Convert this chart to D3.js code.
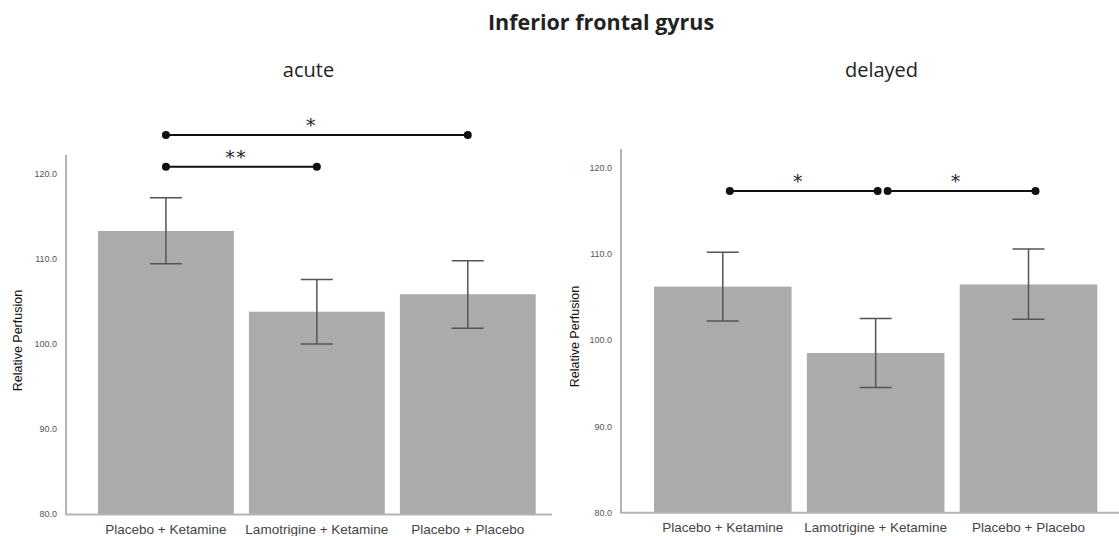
<!DOCTYPE html>
<html>
<head>
<meta charset="utf-8">
<script src="https://cdn.jsdelivr.net/npm/d3@7"></script>
<style>
  body { margin: 0; background: #fff; }
  svg { display: block; }
</style>
</head>
<body>
<svg id="chart" width="1119" height="536"></svg>
<script>
// groups on the x axis
var categories = ['Placebo + Ketamine', 'Lamotrigine + Ketamine', 'Placebo + Placebo'];

// acute: bar means and error bar limits
var acuteMeans = [113.3, 103.8, 105.85];
var acuteLower = [109.45, 100.0, 101.85];
var acuteUpper = [117.2, 107.6, 109.8];

// delayed
var delayedMeans = [106.2, 98.5, 106.45];
var delayedLower = [102.2, 94.5, 102.4];
var delayedUpper = [110.2, 102.5, 110.55];

var yTicks = [80, 90, 100, 110, 120];

// significance brackets (category index from/to, height in data units)
var acuteSig = [
  { from: 0, to: 2, level: 124.6, label: '*' },
  { from: 0, to: 1, level: 120.85, label: '**' }
];
var delayedSig = [
  { from: 0, to: 1, level: 117.3, label: '*' },
  { from: 1, to: 2, level: 117.3, label: '*' }
];

var svg = d3.select('#chart');

svg.append('text')
    .attr('x', 601).attr('y', 30)
    .attr('text-anchor', 'middle')
    .attr('font-family', 'Open Sans, sans-serif')
    .attr('font-weight', 'bold')
    .attr('font-size', 21.5)
    .attr('fill', '#222')
    .text('Inferior frontal gyrus');

function panel(opts) {
  var g = svg.append('g');

  var x = d3.scaleBand()
      .domain(categories)
      .range(opts.barRange)
      .paddingInner(0.1)
      .paddingOuter(0);

  var y = d3.scaleLinear()
      .domain([80, 120])
      .range(opts.yRange);

  var rows = categories.map(function(c, i) {
    return { cat: c, mean: opts.means[i], lo: opts.lower[i], hi: opts.upper[i] };
  });

  // subtitle
  g.append('text')
      .attr('x', opts.subX).attr('y', 77)
      .attr('text-anchor', 'middle')
      .attr('font-family', 'Open Sans, sans-serif')
      .attr('font-size', 20)
      .attr('fill', '#222')
      .text(opts.name);

  // bars
  g.selectAll('rect.bar')
      .data(rows)
    .enter().append('rect')
      .attr('class', 'bar')
      .attr('x', function(d) { return x(d.cat); })
      .attr('width', x.bandwidth())
      .attr('y', function(d) { return y(d.mean); })
      .attr('height', function(d) { return y(80) - y(d.mean); })
      .attr('fill', '#ababab');

  // axes (SPSS-like: grey lines, no tick marks)
  var yAxis = d3.axisLeft(y)
      .tickValues(yTicks)
      .tickSize(0)
      .tickPadding(9)
      .tickFormat(d3.format('.1f'));

  var ya = g.append('g')
      .attr('transform', 'translate(' + opts.axisX + ',0)')
      .call(yAxis);
  ya.select('.domain').remove();
  ya.selectAll('text')
      .attr('font-family', 'Liberation Sans, Arial, sans-serif')
      .attr('font-size', 9)
      .attr('fill', '#555');

  g.append('line')
      .attr('x1', opts.axisX).attr('x2', opts.axisX)
      .attr('y1', opts.axisTop).attr('y2', y(80) + 1)
      .attr('stroke', '#b4b4b4').attr('stroke-width', 2);
  g.append('line')
      .attr('x1', opts.axisX).attr('x2', opts.axisRight)
      .attr('y1', y(80) + 0.5).attr('y2', y(80) + 0.5)
      .attr('stroke', '#b4b4b4').attr('stroke-width', 2);

  var xAxis = d3.axisBottom(x).tickSize(0).tickPadding(10);
  var xa = g.append('g')
      .attr('transform', 'translate(0,' + y(80) + ')')
      .call(xAxis);
  xa.select('.domain').remove();
  xa.selectAll('text')
      .attr('font-family', 'Liberation Sans, Arial, sans-serif')
      .attr('font-size', 13.5)
      .attr('fill', '#444');

  g.append('text')
      .attr('transform', 'translate(' + opts.labelX + ',' + y(100.4) + ') rotate(-90)')
      .attr('text-anchor', 'middle')
      .attr('font-family', 'Liberation Sans, Arial, sans-serif')
      .attr('font-size', 12.5)
      .attr('fill', '#111')
      .text('Relative Perfusion');

  // error bars
  var cx = function(d) { return x(d.cat) + x.bandwidth() / 2; };
  var cap = 16;
  var eb = g.selectAll('g.err')
      .data(rows)
    .enter().append('g')
      .attr('class', 'err')
      .attr('stroke', '#555')
      .attr('stroke-width', 1.5);
  eb.append('line')
      .attr('x1', cx).attr('x2', cx)
      .attr('y1', function(d) { return y(d.hi); })
      .attr('y2', function(d) { return y(d.lo); });
  eb.append('line')
      .attr('x1', function(d) { return cx(d) - cap; })
      .attr('x2', function(d) { return cx(d) + cap; })
      .attr('y1', function(d) { return y(d.hi); })
      .attr('y2', function(d) { return y(d.hi); });
  eb.append('line')
      .attr('x1', function(d) { return cx(d) - cap; })
      .attr('x2', function(d) { return cx(d) + cap; })
      .attr('y1', function(d) { return y(d.lo); })
      .attr('y2', function(d) { return y(d.lo); });

  // significance brackets
  var center = function(i) { return x(categories[i]) + x.bandwidth() / 2 + opts.sigShift; };
  g.selectAll('g.sig')
      .data(opts.sig)
    .enter().append('g')
      .attr('class', 'sig')
      .each(function(d, i) {
        var s = d3.select(this);
        // nudge shared ends apart so both dots show
        var x1 = center(d.from), x2 = center(d.to);
        opts.sig.forEach(function(o, j) {
          if (j === i || o.level !== d.level) return;
          if (o.from === d.to) x2 -= 5;
          if (o.to === d.from) x1 += 5;
        });
        var yy = y(d.level);
        s.append('line')
            .attr('x1', x1).attr('x2', x2)
            .attr('y1', yy).attr('y2', yy)
            .attr('stroke', '#111').attr('stroke-width', 2);
        s.selectAll('circle')
            .data([x1, x2])
          .enter().append('circle')
            .attr('cx', function(v) { return v; })
            .attr('cy', yy)
            .attr('r', 4)
            .attr('fill', '#111');
        s.append('text')
            .attr('x', (x1 + x2) / 2 - 5)
            .attr('y', yy - 3)
            .attr('text-anchor', 'middle')
            .attr('font-family', 'DejaVu Serif, serif')
            .attr('font-size', 18)
            .attr('letter-spacing', 2)
            .attr('fill', '#222')
            .text(d.label);
      });
}

panel({
  name: 'acute',
  means: acuteMeans, lower: acuteLower, upper: acuteUpper,
  sig: acuteSig,
  barRange: [98, 535.7],
  yRange: [514, 174],
  axisX: 66, axisTop: 155, axisRight: 552,
  labelX: 22, subX: 308.5, sigShift: 0
});

panel({
  name: 'delayed',
  means: delayedMeans, lower: delayedLower, upper: delayedUpper,
  sig: delayedSig,
  barRange: [654, 1097.3],
  yRange: [512.3, 167.7],
  axisX: 621, axisTop: 149, axisRight: 1119,
  labelX: 579, subX: 881.5, sigShift: 7
});
</script>
</body>
</html>
